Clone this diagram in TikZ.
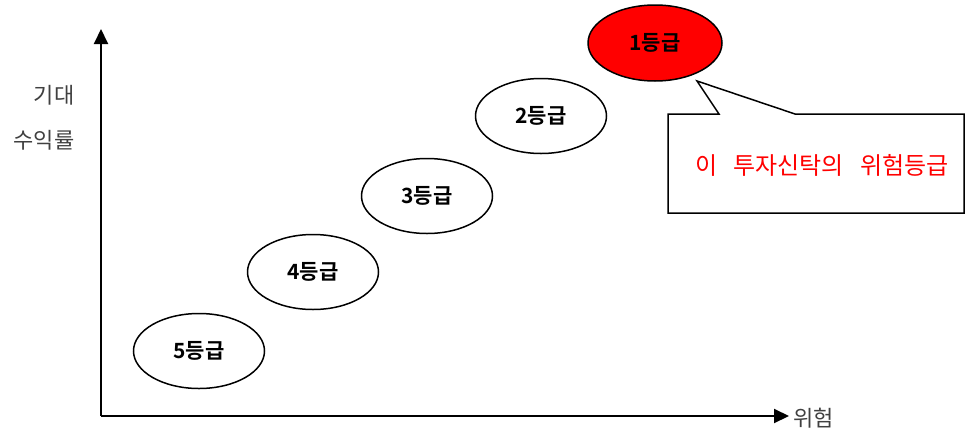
\documentclass[tikz,border=0pt]{standalone}
\usepackage{fontspec}
\newfontfamily\kr{Noto Sans CJK KR}
\newfontfamily\krb{Noto Sans CJK KR Bold}
\usetikzlibrary{positioning,arrows.meta,shapes.geometric}

\begin{document}
\begin{tikzpicture}[x=1pt,y=-1pt,
    grade/.style={draw,ellipse,line width=1.5pt,minimum width=131pt,minimum height=75pt,inner sep=0pt,font=\krb\fontsize{21}{21}\selectfont},
    axislabel/.style={text=black!75,font=\kr\fontsize{22}{22}\selectfont},
    axis/.style={line width=2pt,-{Triangle[width=14pt,length=15pt]}}]
    \useasboundingbox (0,0) rectangle (965,434);
    % axes
    \coordinate (O) at (101,416);
    \coordinate (Y) at (101,29);
    \coordinate (X) at (789,416);
    \draw[axis] (O) -- (Y);
    \draw[axis] (O) -- (X);
    \node[axislabel,anchor=east] (ret1) at (78,95) {기대};
    \node[axislabel,anchor=east] (ret2) at (78,140) {수익률};
    \node[axislabel,anchor=west] (risk) at (790,418) {위험};
    % grades
    \node[grade] (g5) at (199,351) {5등급};
    \node[grade] (g4) at (313,272) {4등급};
    \node[grade] (g3) at (427,196) {3등급};
    \node[grade] (g2) at (541,116) {2등급};
    \node[grade,fill=red,minimum width=134pt,minimum height=76pt] (g1) at (655,43) {1등급};
    % callout
    \coordinate (tip) at (697,81);
    \draw[line width=1.5pt,fill=white] (668,114) -- (719,114) -- (tip) -- (795,114) -- (964,114) -- (964,213) -- (668,213) -- cycle;
    \node[text=red,font=\kr\fontsize{24}{24}\selectfont] (note) at (822,165) {이\hspace{16pt}투자신탁의\hspace{16pt}위험등급};
  \end{tikzpicture}
\end{document}
